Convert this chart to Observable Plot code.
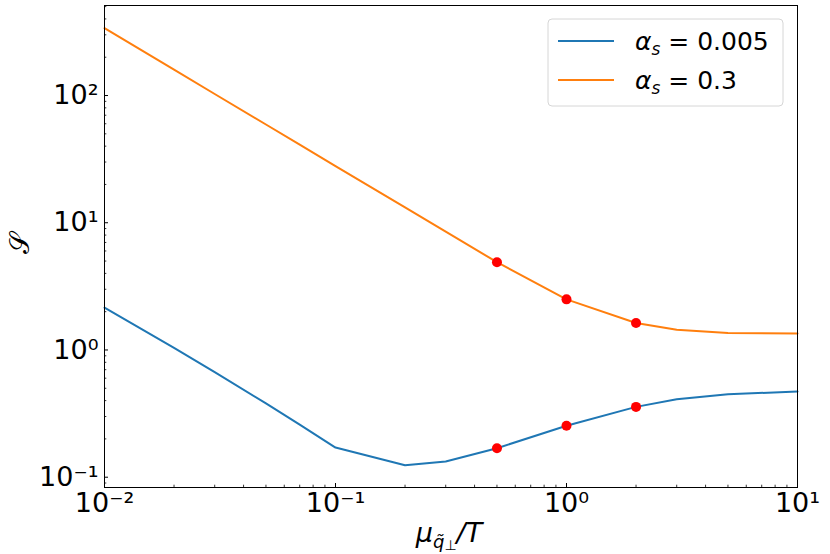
<!DOCTYPE html>
<html>
<head>
<meta charset="utf-8">
<script src="https://cdn.jsdelivr.net/npm/d3@7"></script>
<script src="https://cdn.jsdelivr.net/npm/@observablehq/plot@0.6"></script>
<style>
  html, body { margin: 0; padding: 0; background: #fff; }
  #chart { width: 830px; height: 554px; }
</style>
</head>
<body>
<div id="chart"></div>
<script>
// ---- data ----
const xValues      = [0.01, 0.02, 0.03, 0.05, 0.07, 0.1, 0.2, 0.3, 0.5, 1, 2, 3, 5, 10];
const sAlphaSmall  = [2.15, 1.04, 0.67, 0.38, 0.259, 0.171, 0.124, 0.133, 0.169, 0.254, 0.357, 0.41, 0.449, 0.471];
const sAlphaLarge  = [338, 159.6, 102.8, 59.2, 41.1, 27.9, 13.2, 8.5, 4.9, 2.5, 1.63, 1.44, 1.36, 1.35];
const markX        = [0.5, 1, 2];
const markSmall    = [0.169, 0.254, 0.357];
const markLarge    = [4.9, 2.5, 1.63];
const seriesLabels = ["0.005", "0.3"];
const xMajorTicks  = [0.01, 0.1, 1, 10];
const yMajorTicks  = [0.1, 1, 10, 100];

const sup = {"-":"⁻","0":"⁰","1":"¹","2":"²","3":"³"};
const fmtPow = v => "10" + String(Math.round(Math.log10(v))).split("").map(c => sup[c]).join("");

const small = xValues.map((x, i) => ({x, y: sAlphaSmall[i]}));
const large = xValues.map((x, i) => ({x, y: sAlphaLarge[i]}));
const dots = markX.flatMap((x, i) => [{x, y: markSmall[i]}, {x, y: markLarge[i]}]);

function minorTicks(lo, hi) {
  const out = [];
  for (let e = Math.floor(Math.log10(lo)); e <= Math.ceil(Math.log10(hi)); e++) {
    for (let m = 2; m <= 9; m++) {
      const v = m * Math.pow(10, e);
      if (v > lo && v < hi) out.push(v);
    }
  }
  return out;
}
const xDomain = [0.01, 10];
const yDomain = [0.083, 510];

const plot = Plot.plot({
  width: 830,
  height: 554,
  marginLeft: 104,
  marginRight: 33,
  marginTop: 5,
  marginBottom: 67,
  style: {fontFamily: "DejaVu Sans", fontSize: "27px", background: "#fff", color: "#000"},
  x: {type: "log", domain: xDomain},
  y: {type: "log", domain: yDomain},
  marks: [
    Plot.line(small, {x: "x", y: "y", stroke: "#1f77b4", strokeWidth: 2}),
    Plot.line(large, {x: "x", y: "y", stroke: "#ff7f0e", strokeWidth: 2}),
    Plot.dot(dots, {x: "x", y: "y", r: 5, fill: "#ff0000", stroke: "none"}),
    Plot.frame({stroke: "#000", strokeWidth: 1}),
    // major tick labels
    Plot.axisX(xMajorTicks, {tickSize: 0, tickPadding: 5, tickFormat: fmtPow, label: null, fontSize: 27}),
    Plot.axisY(yMajorTicks, {tickSize: 0, tickPadding: 6, tickFormat: fmtPow, label: null, fontSize: 27}),
    // inward ticks
    Plot.axisX(xMajorTicks, {tickSize: -4, text: null, label: null, strokeWidth: 1}),
    Plot.axisX(minorTicks(...xDomain), {tickSize: -2.3, text: null, label: null, strokeWidth: 0.8}),
    Plot.axisY(yMajorTicks, {tickSize: -4, text: null, label: null, strokeWidth: 1}),
    Plot.axisY(minorTicks(...yDomain), {tickSize: -2.3, text: null, label: null, strokeWidth: 0.8})
  ]
});
document.getElementById("chart").appendChild(plot);

// ---- axis labels and legend (text with sub/superscripts) ----
const svg = d3.select(plot);
const ns = "DejaVu Sans";

// x label: mu_{q~_perp}/T
const xl = svg.append("text")
  .attr("x", 449).attr("y", 542)
  .attr("text-anchor", "middle")
  .attr("font-family", ns).attr("font-size", 27).attr("fill", "#000");
xl.append("tspan").attr("font-style", "italic").text("μ");
xl.append("tspan").attr("font-style", "italic").attr("font-size", 18).attr("dy", 6).text("q̃");
xl.append("tspan").attr("font-size", 14).attr("dy", 2).text("⊥");
xl.append("tspan").attr("font-style", "italic").attr("dy", -8).text("/T");

// y label
svg.append("text")
  .attr("transform", "translate(29,243) rotate(-90)")
  .attr("text-anchor", "middle")
  .attr("font-family", ns).attr("font-size", 27).attr("fill", "#000")
  .text("𝒮");

// legend
const lg = svg.append("g");
lg.append("rect")
  .attr("x", 548).attr("y", 19).attr("width", 235).attr("height", 87).attr("rx", 4)
  .attr("fill", "#fff").attr("fill-opacity", 0.8).attr("stroke", "#d6d6d6").attr("stroke-width", 1);
const legendColors = ["#1f77b4", "#ff7f0e"];
seriesLabels.forEach((lab, i) => {
  const cy = 41 + i * 39;
  lg.append("line").attr("x1", 558).attr("x2", 614).attr("y1", cy).attr("y2", cy)
    .attr("stroke", legendColors[i]).attr("stroke-width", 2);
  const t = lg.append("text").attr("x", 635).attr("y", cy + 9)
    .attr("text-anchor", "start")
    .attr("font-family", ns).attr("font-size", 25).attr("fill", "#000");
  t.append("tspan").attr("font-style", "italic").text("α");
  t.append("tspan").attr("font-style", "italic").attr("font-size", 17).attr("dy", 5).text("s");
  t.append("tspan").attr("dy", -5).text(" = " + lab);
});
</script>
</body>
</html>
